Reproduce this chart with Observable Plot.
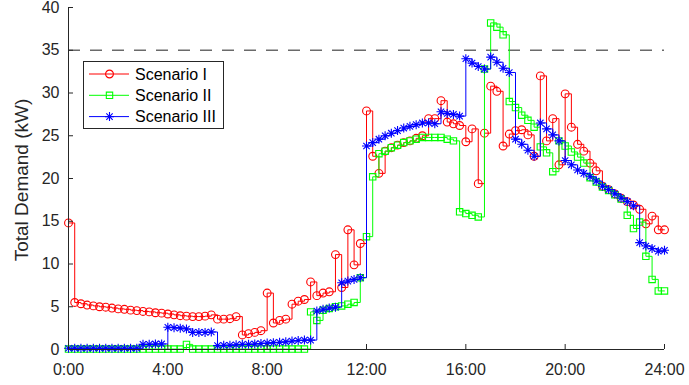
<!DOCTYPE html>
<html><head><meta charset="utf-8">
<script src="https://cdn.jsdelivr.net/npm/d3@7"></script>
<script src="https://cdn.jsdelivr.net/npm/@observablehq/plot@0.6"></script>
<style>
html,body{margin:0;padding:0;background:#fff;}
#chart{width:689px;height:385px;}
</style></head><body><div id="chart"></div>
<script>
// ---- data (15-minute samples, 0:00 .. 24:00) ----
const stepHours = 0.25;
const scenarioI = [14.8,5.5,5.35,5.2,5.1,5.0,4.95,4.85,4.75,4.7,
  4.6,4.55,4.45,4.4,4.3,4.25,4.15,4.05,3.95,3.9,
  3.85,3.85,3.9,4.05,3.55,3.55,3.6,3.85,1.7,1.85,
  2.0,2.2,6.6,3.1,3.4,3.55,5.3,5.65,5.85,7.9,
  6.3,6.6,6.75,11.1,7.25,14.0,9.9,12.4,27.9,22.6,
  20.6,23.2,23.6,23.9,24.2,24.4,24.7,25.0,27.0,27.0,
  29.1,26.6,26.4,26.2,24.3,25.8,19.4,25.3,30.8,30.2,
  23.8,25.2,25.6,25.7,25.1,22.6,32.0,24.4,27.0,21.6,
  29.9,26.0,24.0,23.2,21.8,20.9,19.1,18.7,18.2,17.7,
  17.3,16.9,16.4,14.7,15.6,14.0,14.0];
const scenarioII = [0.05,0.05,0.05,0.05,0.05,0.05,0.05,0.05,0.05,0.05,
  0.05,0.05,0.05,0.05,0.05,0.05,0.05,0.05,0.05,0.6,
  0.05,0.05,0.05,0.05,0.05,0.05,0.05,0.05,0.05,0.05,
  0.05,0.05,0.05,0.05,0.05,0.05,0.05,0.05,0.05,4.4,
  3.4,4.6,4.8,5.0,5.1,5.3,5.5,8.4,13.2,20.2,
  22.9,23.2,23.6,23.9,24.2,24.4,24.6,24.8,24.8,24.8,
  24.8,24.6,24.4,16.1,15.9,15.7,15.5,32.8,38.2,37.7,
  36.8,29.0,28.3,27.4,26.8,26.0,23.7,23.0,20.8,24.4,
  23.8,23.1,22.5,21.8,20.1,19.6,19.0,18.6,18.1,17.6,
  15.7,14.15,14.9,10.9,8.2,6.85,6.85];
const scenarioIII = [0.15,0.15,0.15,0.15,0.15,0.15,0.15,0.15,0.15,0.15,
  0.15,0.15,0.6,0.6,0.65,0.65,2.6,2.55,2.5,2.4,
  2.0,2.0,2.0,2.05,0.45,0.5,0.5,0.55,0.6,0.6,
  0.65,0.7,0.75,0.8,0.85,0.9,1.0,1.05,1.1,1.1,
  4.5,4.7,4.85,4.95,7.8,8.0,8.2,8.4,23.8,24.2,
  24.6,25.0,25.3,25.6,25.9,26.1,26.3,26.5,26.5,26.4,
  27.8,27.6,27.5,27.3,34.0,33.5,33.1,32.8,34.2,33.6,
  32.9,32.4,24.6,24.0,23.3,22.6,26.5,25.8,25.1,24.4,
  22.1,21.6,21.0,20.6,20.2,19.7,19.1,18.7,18.2,17.7,
  17.3,16.8,12.5,12.1,11.8,11.5,11.6];
const seriesNames = ["Scenario I","Scenario II","Scenario III"];
const seriesColors = ["#ff0000","#00ff00","#0000ff"];
const demandLimit = 35;
const xTicks = [0,4,8,12,16,20,24];
const xTickLabels = ["0:00","4:00","8:00","12:00","16:00","20:00","24:00"];
const yTicks = [0,5,10,15,20,25,30,35,40];
const yLabel = "Total Demand (kW)";

// ---- symbols ----
const asterisk8 = {draw(ctx, size){
  const r = Math.sqrt(size/Math.PI), d = r*Math.SQRT1_2;
  ctx.moveTo(-r,0); ctx.lineTo(r,0);
  ctx.moveTo(0,-r); ctx.lineTo(0,r);
  ctx.moveTo(-d,-d); ctx.lineTo(d,d);
  ctx.moveTo(-d,d); ctx.lineTo(d,-d);
}};
const symbols = [d3.symbolCircle, d3.symbolSquare, asterisk8];
const radii = [3.9, 3.6, 4.5];
const allValues = [scenarioI, scenarioII, scenarioIII];

const W = 689, H = 385, mL = 68, mR = 25, mT = 7, mB = 36;
const frameW = W - mL - mR, frameH = H - mT - mB;
const ink = "#262626";
const font = "'Liberation Sans', Arial, sans-serif";

const marks = [
  Plot.ruleY([demandLimit], {stroke:"#6a6a6a", strokeWidth:1.5, strokeDasharray:"12,10"})
];
allValues.forEach((vals, k) => {
  const data = vals.map((v, i) => ({t: i*stepHours, v}));
  marks.push(Plot.line(data, {x:"t", y:"v", curve:"step-after", stroke:seriesColors[k], strokeWidth:1}));
  marks.push(Plot.dot(data, {x:"t", y:"v", symbol:symbols[k], r:radii[k], stroke:seriesColors[k], fill:"none", strokeWidth:1.1}));
});
marks.push(
  Plot.ruleY([0], {stroke:ink, strokeWidth:1}),
  Plot.ruleX([0], {stroke:ink, strokeWidth:1}),
  Plot.tickX(xTicks, {x:d=>d, insetTop:frameH-5, stroke:ink}),
  Plot.tickY(yTicks, {y:d=>d, insetRight:frameW-5, stroke:ink}),
  Plot.axisX(xTicks, {tickSize:0, tickPadding:14, label:null, fontSize:16,
    tickFormat:d=>xTickLabels[xTicks.indexOf(d)]}),
  Plot.axisY(yTicks, {tickSize:0, tickPadding:9, label:null, fontSize:16})
);

const chart = Plot.plot({
  width:W, height:H, marginLeft:mL, marginRight:mR, marginTop:mT, marginBottom:mB,
  x:{domain:[0,24]}, y:{domain:[0,40]},
  style:{fontFamily:font, fontSize:"16px", color:ink, background:"#fff", overflow:"visible"},
  marks
});
document.getElementById("chart").appendChild(chart);

const svg = d3.select(chart);
// y-axis title
svg.append("text")
  .attr("transform", `translate(28,${mT + frameH/2 + 2}) rotate(-90)`)
  .attr("text-anchor","middle")
  .attr("fill", ink)
  .style("font-size","19px")
  .style("font-family",font)
  .text(yLabel);

// legend
const lg = svg.append("g");
lg.append("rect").attr("x",83.5).attr("y",61.5).attr("width",140).attr("height",67)
  .attr("fill","#fff").attr("stroke",ink).attr("stroke-width",1);
seriesNames.forEach((name, k) => {
  const cy = 74 + k*21.3;
  lg.append("line").attr("x1",89).attr("x2",129).attr("y1",cy).attr("y2",cy)
    .attr("stroke",seriesColors[k]).attr("stroke-width",1);
  let path;
  if (k < 2) path = d3.symbol().type(symbols[k]).size(Math.PI*radii[k]*radii[k])();
  else { const p = d3.path(); asterisk8.draw(p, Math.PI*radii[k]*radii[k]); path = p.toString(); }
  lg.append("path").attr("d", path).attr("transform",`translate(109.5,${cy})`)
    .attr("fill","none").attr("stroke",seriesColors[k]).attr("stroke-width",1.1);
  lg.append("text").attr("x",135).attr("y",cy).attr("dy","0.35em")
    .attr("text-anchor","start")
    .attr("fill","#000").style("font-size","16px")
    .style("font-family",font).text(name);
});
</script>
</body></html>
